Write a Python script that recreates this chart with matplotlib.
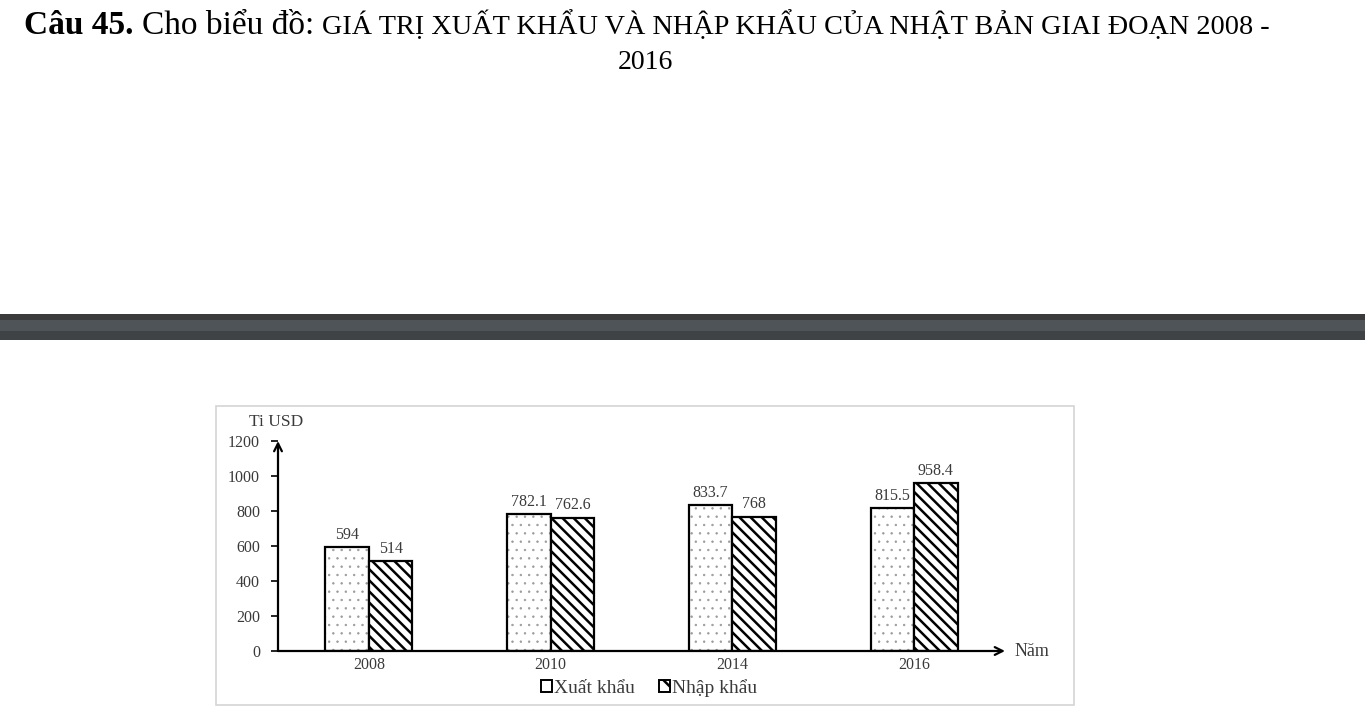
import matplotlib
matplotlib.use("Agg")
import matplotlib.pyplot as plt
from matplotlib.patches import Rectangle, Patch

# ---- data ----
years = ["2008", "2010", "2014", "2016"]
xuat_khau = [594, 782.1, 833.7, 815.5]
nhap_khau = [514, 762.6, 768, 958.4]
y_ticks = [0, 200, 400, 600, 800, 1000, 1200]
series_names = ["Xuất khẩu", "Nhập khẩu"]

W, H = 1365, 711
plt.rcParams["hatch.linewidth"] = 1.8
SERIF = ["Liberation Serif", "DejaVu Serif"]

fig = plt.figure(figsize=(W / 100, H / 100), dpi=100)
fig.patch.set_facecolor("white")


def fx(x):
    return x / W


def fy(y):
    return 1 - y / H


# ---- title text ----
r = fig.canvas.get_renderer()
t1 = fig.text(fx(24), fy(34), "Câu 45.", fontsize=24, fontweight="bold",
              family=SERIF, va="baseline", ha="left")
x = t1.get_window_extent(r).x1 + 8
t2 = fig.text(x / W, fy(34), "Cho biểu đồ: ", fontsize=24,
              family=SERIF, va="baseline", ha="left")
x = t2.get_window_extent(r).x1
fig.text(x / W, fy(34),
         "GIÁ TRỊ XUẤT KHẨU VÀ NHẬP KHẨU CỦA NHẬT BẢN GIAI ĐOẠN 2008 -",
         fontsize=20.3, family=SERIF, va="baseline", ha="left")
fig.text(fx(645), fy(69), "2016", fontsize=20, family=SERIF,
         va="baseline", ha="center")

# ---- dark band ----
fig.patches.append(Rectangle((0, fy(320)), 1, (320 - 314) / H, transform=fig.transFigure,
                             facecolor="#3b3b3b", edgecolor="none", zorder=-2))
fig.patches.append(Rectangle((0, fy(331)), 1, (331 - 320) / H, transform=fig.transFigure,
                             facecolor="#4f5458", edgecolor="none", zorder=-2))
fig.patches.append(Rectangle((0, fy(340)), 1, (340 - 331) / H, transform=fig.transFigure,
                             facecolor="#404345", edgecolor="none", zorder=-2))

# ---- chart frame ----
fig.patches.append(Rectangle((fx(216), fy(705)), (1074 - 216) / W, (705 - 406) / H,
                             transform=fig.transFigure, facecolor="none",
                             edgecolor="#d4d4d4", linewidth=1.2, zorder=-2))

# ---- axes ----
ax = fig.add_axes([fx(278), fy(651), (1005 - 278) / W, (651 - 441) / H])
ax.set_facecolor("none")
ax.set_xlim(-0.5, 3.5)
ax.set_ylim(0, 1200)
for s in ax.spines.values():
    s.set_visible(False)

pos = list(range(len(years)))
bw = 0.24
txt_col = "#3a3a3a"
FS = 11.5

xk_pos = [p - bw / 2 for p in pos]
nk_pos = [p + bw / 2 for p in pos]

dots = ax.bar(xk_pos, xuat_khau, width=bw, facecolor="white", edgecolor="#9a9a9a",
              hatch="..", linewidth=0, zorder=2)
for p in dots:
    try:
        p.set_hatch_linewidth(0.5)
    except Exception:
        pass
ax.bar(xk_pos, xuat_khau, width=bw, fill=False, edgecolor="black",
       linewidth=1.6, zorder=3)
ax.bar(nk_pos, nhap_khau, width=bw, facecolor="white", edgecolor="black",
       hatch="\\\\\\", linewidth=1.6, zorder=3)

for xp, v in zip(xk_pos, xuat_khau):
    ax.annotate(f"{v:g}", (xp, v), xytext=(0, 3), textcoords="offset points",
                ha="center", va="bottom", fontsize=FS, family=SERIF, color=txt_col)
for xp, v in zip(nk_pos, nhap_khau):
    ax.annotate(f"{v:g}", (xp, v), xytext=(0, 3), textcoords="offset points",
                ha="center", va="bottom", fontsize=FS, family=SERIF, color=txt_col)

# axis lines with arrows
ax.annotate("", xy=(3.5, 0), xytext=(-0.5, 0),
            arrowprops=dict(arrowstyle="->", lw=1.6, color="black",
                            shrinkA=0, shrinkB=0, mutation_scale=14),
            annotation_clip=False)
ax.annotate("", xy=(-0.5, 1200), xytext=(-0.5, 0),
            arrowprops=dict(arrowstyle="->", lw=1.6, color="black",
                            shrinkA=0, shrinkB=0, mutation_scale=14),
            annotation_clip=False)

ax.set_yticks(y_ticks)
ax.set_yticklabels([str(t) for t in y_ticks], fontsize=FS, family=SERIF, color=txt_col)
ax.tick_params(axis="y", direction="out", length=5, width=1.2, pad=8)
ax.set_xticks(pos)
ax.set_xticklabels(years, fontsize=FS, family=SERIF, color=txt_col)
ax.tick_params(axis="x", length=0, pad=4)

fig.text(fx(276), fy(426), "Ti USD", fontsize=12.5, family=SERIF, color=txt_col,
         ha="center", va="baseline")
fig.text(fx(1015), fy(651), "Năm", fontsize=13, family=SERIF, color=txt_col,
         ha="left", va="center")

# legend
handles = [Patch(facecolor="white", edgecolor="black", linewidth=1.4),
           Patch(facecolor="white", edgecolor="black", linewidth=1.4, hatch="\\\\")]
fig.legend(handles, series_names, loc="center", bbox_to_anchor=(fx(649), fy(688)),
           ncol=2, frameon=False, handlelength=0.58, handleheight=0.58,
           handletextpad=0.12, columnspacing=1.2,
           prop=dict(family=SERIF, size=14), labelcolor=txt_col)

fig.savefig("out.png", dpi=100, facecolor="white")
